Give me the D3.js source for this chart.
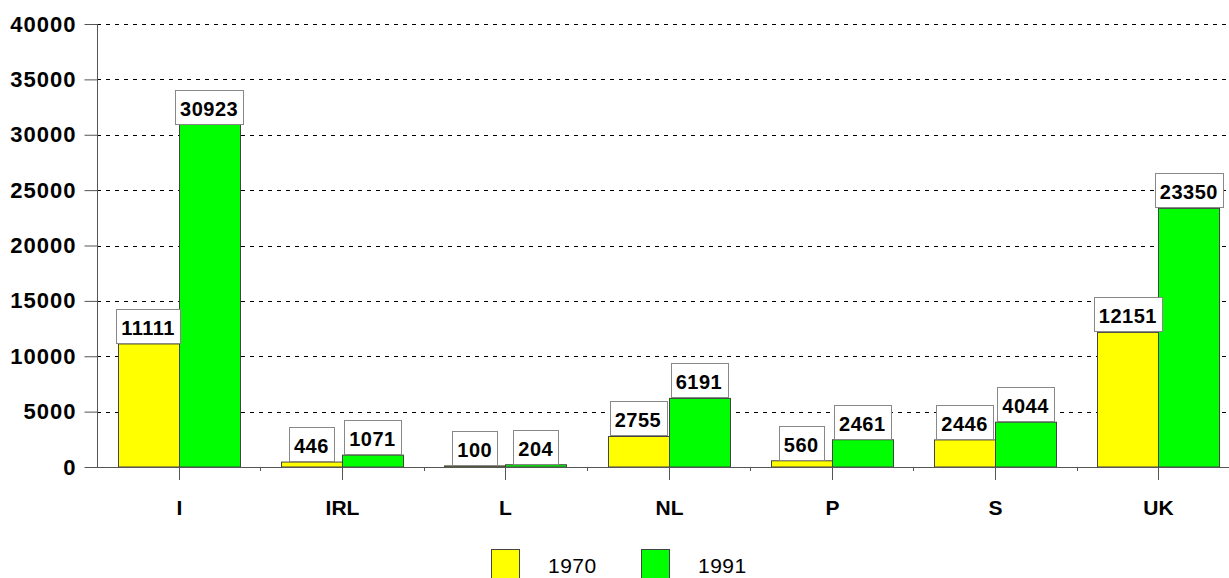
<!DOCTYPE html>
<html>
<head>
<meta charset="utf-8">
<script src="https://cdnjs.cloudflare.com/ajax/libs/d3/7.8.5/d3.min.js"></script>
<style>
  body { margin: 0; background: #fff; }
  svg { display: block; font-family: "Liberation Sans", Arial, sans-serif; }
</style>
</head>
<body>
<svg id="chart" width="1229" height="578"></svg>
<script>
// values
var countries = ["I", "IRL", "L", "NL", "P", "S", "UK"];
var years = ["1970", "1991"];
var v1970 = [11111, 446, 100, 2755, 560, 2446, 12151];
var v1991 = [30923, 1071, 204, 6191, 2461, 4044, 23350];
var yTicks = [0, 5000, 10000, 15000, 20000, 25000, 30000, 35000, 40000];
var colors = ["#ffff00", "#00ff00"];

var svg = d3.select("#chart");
var plotL = 97, plotT = 24, plotB = 467, plotR = 1240;

var x = d3.scaleBand().domain(countries).range([plotL, plotR]);
var y = d3.scaleLinear().domain([0, 40000]).range([plotB, plotT]);
var barW = 61;

// grid
svg.append("g").selectAll("line").data(yTicks.slice(1)).enter().append("line")
  .attr("x1", plotL).attr("x2", 1229)
  .attr("y1", function(d){ return Math.round(y(d)) + 0.5; }).attr("y2", function(d){ return Math.round(y(d)) + 0.5; })
  .attr("stroke", "#000").attr("stroke-width", 1).attr("stroke-dasharray", "4,5");

// y axis
var yAxis = d3.axisLeft(y).tickValues(yTicks).tickFormat(d3.format("d")).tickSize(13).tickPadding(9);
var gy = svg.append("g").attr("transform", "translate(" + (plotL + 0.5) + ",0)").call(yAxis);
gy.select(".domain").attr("stroke", "#555").attr("d", "M0," + plotT + "V" + plotB);
gy.selectAll(".tick line").attr("stroke", "#555");
gy.selectAll(".tick text").attr("font-size", 22).attr("font-weight", "bold").attr("fill", "#000")
  .attr("letter-spacing", 1).attr("dx", 1)
  .attr("font-family", "Liberation Sans, Arial, sans-serif");

// bars
var series = [v1970, v1991];
series.forEach(function(vals, s){
  svg.append("g").selectAll("rect").data(vals).enter().append("rect")
    .attr("x", function(d, i){ return Math.round(x(countries[i]) + x.bandwidth() / 2 + (s - 1) * barW) + 0.5; })
    .attr("y", function(d){ return y(d); })
    .attr("width", barW)
    .attr("height", function(d){ return plotB - y(d); })
    .attr("fill", colors[s]).attr("stroke", "#444").attr("stroke-width", 1);
});

// x axis
svg.append("line").attr("x1", plotL).attr("x2", 1229).attr("y1", plotB + 0.5).attr("y2", plotB + 0.5)
  .attr("stroke", "#555");
var gx = svg.append("g");
countries.forEach(function(c){
  var cx = Math.round(x(c) + x.bandwidth() / 2) + 0.5;
  gx.append("line").attr("x1", cx).attr("x2", cx).attr("y1", plotB).attr("y2", plotB + 13).attr("stroke", "#555");
  var bx = Math.round(x(c)) + 0.5;
  if (x(c) > plotL) gx.append("line").attr("x1", bx).attr("x2", bx).attr("y1", plotB).attr("y2", plotB + 4).attr("stroke", "#555");
  gx.append("text").attr("x", cx).attr("y", 515).attr("text-anchor", "middle")
    .attr("font-size", 21).attr("font-weight", "bold").text(c);
});

// value labels
var lab = svg.append("g");
series.forEach(function(vals, s){
  vals.forEach(function(d, i){
    var cx = x(countries[i]) + x.bandwidth() / 2 + (s - 0.5) * barW;
    var ty = Math.round(y(d));
    var g = lab.append("g");
    var t = g.append("text").attr("x", cx).attr("y", ty - 9).attr("text-anchor", "middle")
      .attr("font-size", 20).attr("font-weight", "bold").attr("letter-spacing", 0.5).text(d);
    var w = Math.round(t.node().getComputedTextLength() + 10);
    g.insert("rect", "text").attr("x", Math.round(cx - w / 2) + 0.5).attr("y", ty - 34.5).attr("width", w).attr("height", 34)
      .attr("fill", "#fff").attr("stroke", "#888").attr("stroke-width", 1);
  });
});

// legend
var leg = svg.append("g");
years.forEach(function(yr, s){
  var lx = 491 + s * 150;
  leg.append("rect").attr("x", lx + 0.5).attr("y", 549.5).attr("width", 28).attr("height", 30)
    .attr("fill", colors[s]).attr("stroke", "#444");
  leg.append("text").attr("x", lx + 57).attr("y", 573).attr("font-size", 21).attr("letter-spacing", 0.5).text(yr);
});
</script>
</body>
</html>
